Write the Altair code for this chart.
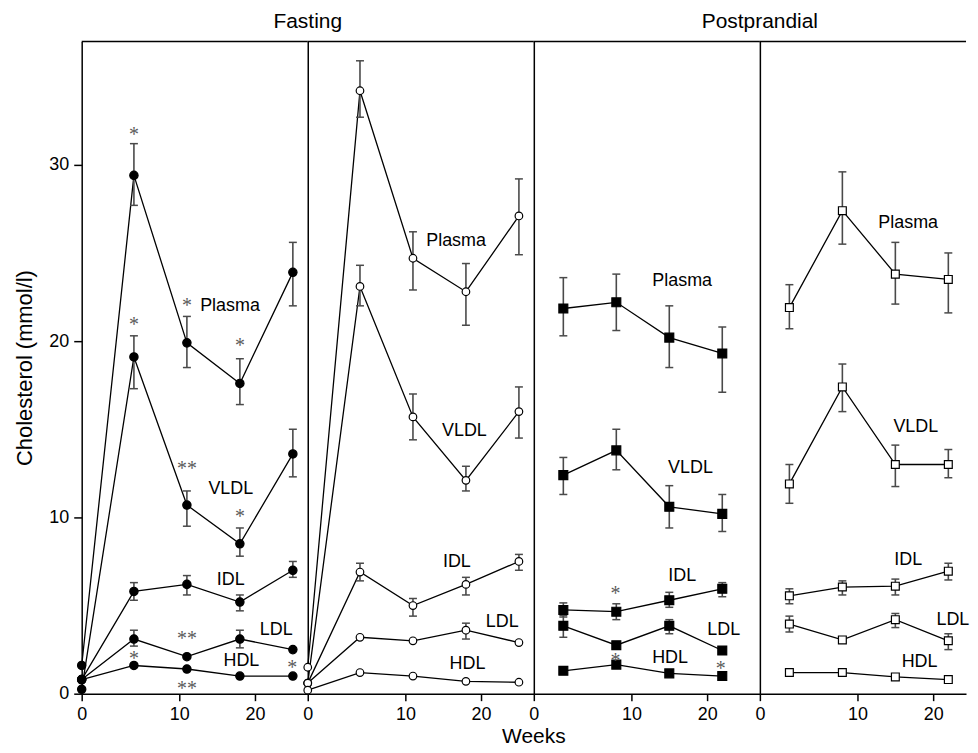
import altair as alt
import pandas as pd

FONT = "Liberation Sans"

# ---------------- data ----------------
series_names = ["Plasma", "VLDL", "IDL", "LDL", "HDL"]

weeks_fast = [0, 4, 11, 18, 25]
weeks_post = [1, 8, 15, 22]

# Panel 1: fasting, filled circles
p1_plasma = [1.6, 29.4, 19.9, 17.6, 23.9]
p1_plasma_lo = [None, 27.7, 18.5, 16.4, 22.0]
p1_plasma_hi = [None, 31.2, 21.4, 19.0, 25.6]
p1_vldl = [0.25, 19.1, 10.7, 8.5, 13.6]
p1_vldl_lo = [None, 17.3, 9.5, 7.8, 12.3]
p1_vldl_hi = [None, 20.3, 11.5, 9.4, 15.0]
p1_idl = [0.8, 5.8, 6.2, 5.2, 7.0]
p1_idl_lo = [None, 5.3, 5.6, 4.7, 6.6]
p1_idl_hi = [None, 6.3, 6.7, 5.6, 7.5]
p1_ldl = [0.8, 3.1, 2.1, 3.1, 2.5]
p1_ldl_lo = [None, 2.7, None, 2.6, None]
p1_ldl_hi = [None, 3.6, None, 3.6, None]
p1_hdl = [0.8, 1.6, 1.4, 1.0, 1.0]

# Panel 2: fasting, open circles
p2_plasma = [1.5, 34.2, 24.7, 22.8, 27.1]
p2_plasma_lo = [None, 32.7, 22.9, 20.9, 24.9]
p2_plasma_hi = [None, 35.9, 26.2, 24.4, 29.2]
p2_vldl = [0.6, 23.1, 15.7, 12.1, 16.0]
p2_vldl_lo = [None, 22.0, 14.4, 11.5, 14.5]
p2_vldl_hi = [None, 24.3, 17.0, 12.9, 17.4]
p2_idl = [0.6, 6.9, 5.0, 6.2, 7.5]
p2_idl_lo = [None, 6.4, 4.4, 5.6, 7.0]
p2_idl_hi = [None, 7.4, 5.4, 6.6, 7.9]
p2_ldl = [0.6, 3.2, 3.0, 3.6, 2.9]
p2_ldl_lo = [None, None, None, 3.1, None]
p2_ldl_hi = [None, None, None, 4.0, None]
p2_hdl = [0.2, 1.2, 1.0, 0.7, 0.65]

# Panel 3: postprandial, filled squares
p3_plasma = [21.85, 22.2, 20.2, 19.3]
p3_plasma_lo = [20.3, 20.6, 18.5, 17.1]
p3_plasma_hi = [23.6, 23.8, 22.0, 20.8]
p3_vldl = [12.4, 13.8, 10.6, 10.2]
p3_vldl_lo = [11.3, 12.7, 9.4, 9.2]
p3_vldl_hi = [13.4, 15.0, 11.8, 11.3]
p3_idl = [4.75, 4.65, 5.3, 5.95]
p3_idl_lo = [4.35, 4.2, 4.9, 5.5]
p3_idl_hi = [5.15, 5.1, 5.75, 6.3]
p3_ldl = [3.85, 2.75, 3.85, 2.45]
p3_ldl_lo = [3.2, None, 3.4, None]
p3_ldl_hi = [4.45, None, 4.2, None]
p3_hdl = [1.3, 1.65, 1.15, 1.0]

# Panel 4: postprandial, open squares
p4_plasma = [21.9, 27.4, 23.8, 23.5]
p4_plasma_lo = [20.7, 25.5, 22.1, 21.6]
p4_plasma_hi = [23.2, 29.6, 25.6, 25.0]
p4_vldl = [11.9, 17.4, 13.0, 13.0]
p4_vldl_lo = [10.8, 16.0, 11.75, 12.25]
p4_vldl_hi = [13.0, 18.7, 14.1, 13.85]
p4_idl = [5.55, 6.05, 6.1, 6.95]
p4_idl_lo = [5.1, 5.6, 5.6, 6.45]
p4_idl_hi = [5.95, 6.4, 6.5, 7.4]
p4_ldl = [3.95, 3.05, 4.2, 3.0]
p4_ldl_lo = [3.5, None, 3.75, 2.5]
p4_ldl_hi = [4.4, None, 4.55, 3.4]
p4_hdl = [1.2, 1.2, 0.95, 0.8]

# series label positions (week, value) per panel
lab_p1_week = [16.7, 16.8, 16.8, 22.8, 18.2]
lab_p1_val = [22.0, 11.6, 6.45, 3.6, 1.85]
lab_p2_week = [16.7, 17.8, 16.8, 22.8, 18.2]
lab_p2_val = [25.7, 14.9, 7.45, 4.05, 1.7]
lab_p3_week = [16.7, 17.8, 16.7, 22.2, 15.1]
lab_p3_val = [23.4, 12.8, 6.65, 3.6, 2.0]
lab_p4_week = [16.7, 17.7, 16.7, 22.6, 18.2]
lab_p4_val = [26.7, 15.1, 7.6, 4.2, 1.8]

# significance marks
star_p1_week = [4, 4, 11, 18, 11, 18, 11, 4, 11, 24.9]
star_p1_val = [32.0, 21.2, 22.3, 20.0, 13.0, 10.3, 3.4, 2.25, 0.55, 1.75]
star_p1_txt = ["*", "*", "*", "*", "**", "*", "**", "*", "**", "*"]
star_p3_week = [7.9, 7.9, 21.8]
star_p3_val = [5.93, 2.15, 1.7]
star_p3_txt = ["*", "*", "*"]

group_headers = ["Fasting", "Postprandial"]
x_title = "Weeks"
y_title = "Cholesterol (mmol/l)"
x_ticks = [0, 10, 20]
y_ticks = [0, 10, 20, 30]

# ---------------- build tables ----------------
def series_rows(panel, weeks, vals, los, his, name):
    rows = []
    for i, w in enumerate(weeks):
        rows.append({"panel": panel, "series": name, "week": w, "value": vals[i],
                     "lo": los[i] if los else None, "hi": his[i] if his else None})
    return rows

rows = []
for name, v, lo, hi in [("Plasma", p1_plasma, p1_plasma_lo, p1_plasma_hi),
                        ("VLDL", p1_vldl, p1_vldl_lo, p1_vldl_hi),
                        ("IDL", p1_idl, p1_idl_lo, p1_idl_hi),
                        ("LDL", p1_ldl, p1_ldl_lo, p1_ldl_hi),
                        ("HDL", p1_hdl, None, None)]:
    rows += series_rows(1, weeks_fast, v, lo, hi, name)
for name, v, lo, hi in [("Plasma", p2_plasma, p2_plasma_lo, p2_plasma_hi),
                        ("VLDL", p2_vldl, p2_vldl_lo, p2_vldl_hi),
                        ("IDL", p2_idl, p2_idl_lo, p2_idl_hi),
                        ("LDL", p2_ldl, p2_ldl_lo, p2_ldl_hi),
                        ("HDL", p2_hdl, None, None)]:
    rows += series_rows(2, weeks_fast, v, lo, hi, name)
for name, v, lo, hi in [("Plasma", p3_plasma, p3_plasma_lo, p3_plasma_hi),
                        ("VLDL", p3_vldl, p3_vldl_lo, p3_vldl_hi),
                        ("IDL", p3_idl, p3_idl_lo, p3_idl_hi),
                        ("LDL", p3_ldl, p3_ldl_lo, p3_ldl_hi),
                        ("HDL", p3_hdl, None, None)]:
    rows += series_rows(3, weeks_post, v, lo, hi, name)
for name, v, lo, hi in [("Plasma", p4_plasma, p4_plasma_lo, p4_plasma_hi),
                        ("VLDL", p4_vldl, p4_vldl_lo, p4_vldl_hi),
                        ("IDL", p4_idl, p4_idl_lo, p4_idl_hi),
                        ("LDL", p4_ldl, p4_ldl_lo, p4_ldl_hi),
                        ("HDL", p4_hdl, None, None)]:
    rows += series_rows(4, weeks_post, v, lo, hi, name)
df = pd.DataFrame(rows)

labels = []
for p, ws, vs in [(1, lab_p1_week, lab_p1_val), (2, lab_p2_week, lab_p2_val),
                  (3, lab_p3_week, lab_p3_val), (4, lab_p4_week, lab_p4_val)]:
    for n, w, v in zip(series_names, ws, vs):
        labels.append({"panel": p, "txt": n, "week": w, "value": v})
labels = pd.DataFrame(labels)

stars = []
for p, ws, vs, ts in [(1, star_p1_week, star_p1_val, star_p1_txt),
                      (3, star_p3_week, star_p3_val, star_p3_txt)]:
    for w, v, t in zip(ws, vs, ts):
        stars.append({"panel": p, "txt": t, "week": w, "value": v})
stars = pd.DataFrame(stars)

# ---------------- layout ----------------
H = 655
PX = 7.6          # pixels per week
OFF = 29.64       # pixel position of week 1 (the "0" tick sits on the panel edge)
WIDTHS = [227, 227, 227, 207]
STYLE = {1: ("circle", "black", 70), 2: ("circle", "white", 58),
         3: ("square", "black", 80), 4: ("square", "white", 62)}
ERR = "#4a4a4a"


def panel(idx):
    w = WIDTHS[idx - 1]
    xs = alt.Scale(domain=[0, 1, 1 + (w - OFF) / PX], range=[0, OFF, w])
    ys = alt.Scale(domain=[0, 37], nice=False, zero=True)
    xax = alt.Axis(values=x_ticks, tickSize=7, tickWidth=1.5, tickColor="black",
                   domainColor="black", domainWidth=1.5, labelFontSize=18,
                   labelColor="black", labelFont=FONT, labelPadding=5,
                   labelFlush=False, grid=False, title=None)
    if idx == 1:
        yax = alt.Axis(values=y_ticks, tickSize=8, tickWidth=1.5, tickColor="black",
                       domainColor="black", domainWidth=1.5, labelFontSize=18,
                       labelColor="black", labelFont=FONT, labelPadding=5,
                       grid=False, title=y_title, titleFont=FONT, titleFontSize=22,
                       titleFontWeight="normal", titleColor="black", titlePadding=12)
    else:
        yax = alt.Axis(values=y_ticks, labels=False, ticks=False, grid=False,
                       domainColor="black", domainWidth=1.5, title=None)
    X = alt.X("week:Q", scale=xs, axis=xax)

    d = df[df["panel"] == idx]
    base = alt.Chart(d)
    line = base.mark_line(color="black", strokeWidth=1.3).encode(
        x=X, y=alt.Y("value:Q", scale=ys, axis=yax), detail="series:N")
    err = base.transform_filter("isValid(datum.lo)").mark_rule(
        color=ERR, strokeWidth=1.6).encode(
        x=X, y=alt.Y("lo:Q", scale=ys, axis=yax), y2="hi:Q")
    caps = base.transform_filter("isValid(datum.lo)").transform_fold(
        ["lo", "hi"], as_=["end", "ev"]).mark_tick(
        orient="horizontal", size=8, thickness=1.5, color=ERR, opacity=1).encode(
        x=X, y=alt.Y("ev:Q", scale=ys, axis=yax))
    shape, fill, size = STYLE[idx]
    pts = base.mark_point(shape=shape, filled=True, fill=fill, stroke="black",
                          strokeWidth=1.2, size=size, opacity=1).encode(
        x=X, y=alt.Y("value:Q", scale=ys, axis=yax))
    lab = alt.Chart(labels[labels["panel"] == idx]).mark_text(
        font=FONT, fontSize=18, color="black", align="center", baseline="middle").encode(
        x=X, y=alt.Y("value:Q", scale=ys, axis=yax), text="txt:N")
    top = alt.Chart(pd.DataFrame({"a": [0]})).mark_rule(color="black", strokeWidth=1.5).encode(
        x=alt.value(0), x2=alt.value(w), y=alt.value(0))
    layers = [top, line, err, caps, pts, lab]
    if idx in (1, 3):
        st = stars[stars["panel"] == idx]
        layers.append(alt.Chart(st).mark_text(
            font="Liberation Serif", fontSize=20, color="#5a5a5a", align="center",
            baseline="alphabetic", dy=11).encode(
            x=X, y=alt.Y("value:Q", scale=ys, axis=yax), text="txt:N"))
        hdr = group_headers[0] if idx == 1 else group_headers[1]
        layers.append(alt.Chart(pd.DataFrame({"t": [hdr]})).mark_text(
            font=FONT, fontSize=21, color="black", align="center",
            baseline="alphabetic").encode(
            x=alt.value(w), y=alt.value(-13), text="t:N"))
    if idx == 2:
        layers.append(alt.Chart(pd.DataFrame({"t": [x_title]})).mark_text(
            font=FONT, fontSize=21, color="black", align="center",
            baseline="alphabetic").encode(
            x=alt.value(w), y=alt.value(H + 50), text="t:N"))
    return alt.layer(*layers).properties(width=w, height=H)


chart = alt.hconcat(*[panel(i) for i in range(1, 5)], spacing=0, bounds="flush").properties(
    padding={"left": 5, "top": 2, "right": 0, "bottom": 0}
).configure_view(stroke=None).configure_concat(spacing=0)

chart.save("out.html", embed_options={"renderer": "svg", "actions": False})
